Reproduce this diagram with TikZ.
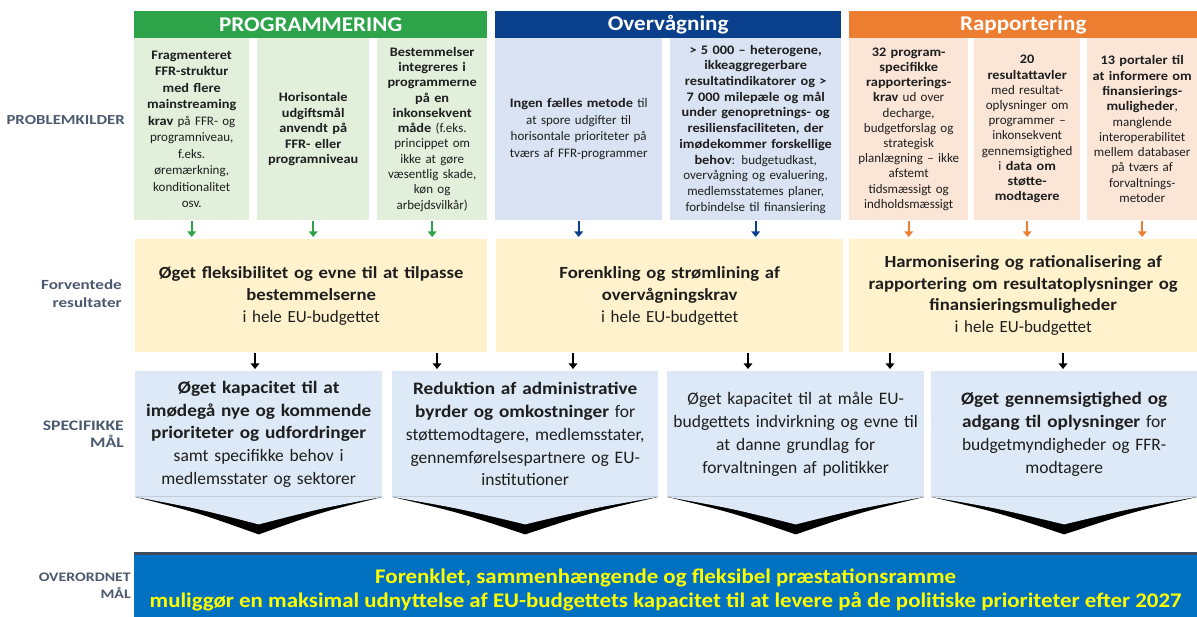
\documentclass[tikz,border=0pt]{standalone}
\usepackage{fontspec}
\setmainfont{Carlito}[BoldFeatures={FakeStretch=1.1}]
\newfontfamily\lblfont{Carlito}[FakeStretch=1.22,BoldFeatures={FakeStretch=1.22}]
\usetikzlibrary{arrows.meta,calc}
\definecolor{greenH}{HTML}{2DA44A}
\definecolor{greenB}{HTML}{E2EFDA}
\definecolor{blueH}{HTML}{0A3F8C}
\definecolor{blueB}{HTML}{DAE3F3}
\definecolor{orangeH}{HTML}{ED7D31}
\definecolor{orangeB}{HTML}{FBE5D6}
\definecolor{yelB}{HTML}{FFF2CC}
\definecolor{specB}{HTML}{DDE9F6}
\definecolor{botB}{HTML}{0070C0}
\definecolor{stripe}{HTML}{3E4C5E}
\definecolor{lblC}{HTML}{4B5970}
\definecolor{txtC}{HTML}{1E1E1E}
\definecolor{goalY}{HTML}{FFFF00}
\begin{document}
\begin{tikzpicture}[x=1pt,y=-1pt,
  hdr/.style={anchor=north west,inner sep=0pt,minimum height=27pt,text=white,font=\fontsize{21}{24}\selectfont\bfseries},
  pbox/.style={anchor=north west,inner sep=0pt,minimum height=182pt,align=center,text=txtC,font=\fontsize{13}{15.5}\selectfont},
  rbox/.style={anchor=north west,inner sep=0pt,minimum height=113pt,fill=yelB,align=center,text=txtC,font=\fontsize{17}{22}\selectfont},
  sbox/.style={anchor=north west,inner sep=0pt,minimum height=126pt,fill=specB,align=center,text=txtC,font=\fontsize{17.5}{22.8}\selectfont},
  lbl/.style={anchor=east,align=right,text=lblC,inner sep=0pt,font=\lblfont\fontsize{14.5}{17}\selectfont\bfseries},
  arr/.style={line width=1.8pt,-{Triangle[width=8.5pt,length=5.5pt]},shorten <=1pt,shorten >=2pt}
]
\useasboundingbox (0,0) rectangle (1197,617);

% headers
\node[hdr,fill=greenH,minimum width=353pt] (hg) at (134,11) {PROGRAMMERING};
\node[hdr,fill=blueH,minimum width=346pt] (hb) at (495,11) {Overvågning};
\node[hdr,fill=orangeH,minimum width=348pt] (ho) at (849,11) {Rapportering};

% problem sources
\node[pbox,fill=greenB,minimum width=115pt,text width=113pt,font=\fontsize{13}{16.5}\selectfont] (g1) at (134,38)
 {\textbf{Fragmenteret}\\\textbf{FFR-struktur}\\\textbf{med flere}\\\textbf{mainstreaming}\\\textbf{krav} på FFR- og\\programniveau,\\f.eks.\\øremærkning,\\konditionalitet\\osv.};
\node[pbox,fill=greenB,minimum width=112pt,text width=110pt] (g2) at (257,38)
 {\textbf{Horisontale}\\\textbf{udgiftsmål}\\\textbf{anvendt på}\\\textbf{FFR- eller}\\\textbf{programniveau}};
\node[pbox,fill=greenB,minimum width=110pt,text width=110pt,font=\fontsize{13}{15.3}\selectfont] (g3) at (377,38)
 {\textbf{Bestemmelser}\\\textbf{integreres i}\\\textbf{programmerne}\\\textbf{på en}\\\textbf{inkonsekvent}\\\textbf{måde} (f.eks.\\princippet om\\ikke at gøre\\væsentlig skade,\\køn og\\arbejdsvilkår)};
\node[pbox,fill=blueB,minimum width=167pt,text width=165pt,font=\fontsize{13}{16.7}\selectfont] (b1) at (495,38)
 {\textbf{Ingen fælles metode} til\\at spore udgifter til\\horisontale prioriteter på\\tværs af FFR-programmer};
\node[pbox,fill=blueB,minimum width=171pt,text width=171pt,font=\fontsize{13}{15.7}\selectfont] (b2) at (670,38)
 {\textbf{> 5 000 – heterogene,}\\\textbf{ikkeaggregerbare}\\\textbf{resultatindikatorer og >}\\\textbf{7 000 milepæle og mål}\\\textbf{under genopretnings- og}\\\textbf{resiliensfaciliteten, der}\\\textbf{imødekommer forskellige}\\\textbf{behov}: budgetudkast,\\overvågning og evaluering,\\medlemsstatemes planer,\\forbindelse til finansiering};
\node[pbox,fill=orangeB,minimum width=119pt,text width=119pt,font=\fontsize{13}{15.2}\selectfont] (o1) at (849,38)
 {\textbf{32 program-}\\\textbf{specifikke}\\\textbf{rapporterings-}\\\textbf{krav} ud over\\decharge,\\budgetforslag og\\strategisk\\planlægning – ikke\\afstemt\\tidsmæssigt og\\indholdsmæssigt};
\node[pbox,fill=orangeB,minimum width=106pt,text width=106pt,font=\fontsize{13}{15.2}\selectfont] (o2) at (974,38)
 {\textbf{20}\\\textbf{resultattavler}\\med resultat-\\oplysninger om\\programmer –\\inkonsekvent\\gennemsigtighed\\i \textbf{data om}\\\textbf{støtte-}\\\textbf{modtagere}};
\node[pbox,fill=orangeB,minimum width=110pt,text width=110pt,font=\fontsize{13}{15.3}\selectfont] (o3) at (1087,38)
 {\textbf{13 portaler til}\\\textbf{at informere om}\\\textbf{finansierings-}\\\textbf{muligheder},\\manglende\\interoperabilitet\\mellem databaser\\på tværs af\\forvaltnings-\\metoder};

% expected results
\node[rbox,minimum width=352pt,text width=350pt] (r1) at (135,239)
 {\textbf{Øget fleksibilitet og evne til at tilpasse}\\\textbf{bestemmelserne}\\i hele EU-budgettet};
\node[rbox,minimum width=347pt,text width=345pt] (r2) at (496,239)
 {\textbf{Forenkling og strømlining af}\\\textbf{overvågningskrav}\\i hele EU-budgettet};
\node[rbox,minimum width=348pt,text width=346pt,font=\fontsize{17}{21.5}\selectfont] (r3) at (849,239)
 {\textbf{Harmonisering og rationalisering af}\\\textbf{rapportering om resultatoplysninger og}\\\textbf{finansieringsmuligheder}\\i hele EU-budgettet};

% specific objectives
\node[sbox,minimum width=247pt,text width=245pt] (s1) at (135,371)
 {\textbf{Øget kapacitet til at}\\\textbf{imødegå nye og kommende}\\\textbf{prioriteter og udfordringer}\\samt specifikke behov i\\medlemsstater og sektorer};
\node[sbox,minimum width=266pt,text width=264pt] (s2) at (392,371)
 {\textbf{Reduktion af administrative}\\\textbf{byrder og omkostninger} for\\støttemodtagere, medlemsstater,\\gennemførelsespartnere og EU-\\institutioner};
\node[sbox,minimum width=257pt,text width=255pt] (s3) at (667,371)
 {Øget kapacitet til at måle EU-\\budgettets indvirkning og evne til\\at danne grundlag for\\forvaltningen af politikker};
\node[sbox,minimum width=266pt,text width=264pt] (s4) at (931,371)
 {\textbf{Øget gennemsigtighed og}\\\textbf{adgang til oplysninger} for\\budgetmyndigheder og FFR-\\modtagere};

% chevrons
\foreach \s in {s1,s2,s3,s4}{
  \fill[black] ($(\s.south west)+(0,-0.5)$) .. controls ($(\s.south west)!0.5!(\s.south)+(0,15)$) .. ($(\s.south)+(0,37)$)
     .. controls ($(\s.south east)!0.5!(\s.south)+(0,15)$) .. ($(\s.south east)+(0,-0.5)$) -- cycle;
  \fill[specB] ($(\s.south west)+(0,-0.5)$) .. controls ($(\s.south west)!0.5!(\s.south)+(0,11)$) .. ($(\s.south)+(0,27)$)
     .. controls ($(\s.south east)!0.5!(\s.south)+(0,11)$) .. ($(\s.south east)+(0,-0.5)$) -- cycle;
}

% overall objective
\node[anchor=north west,inner sep=0pt,minimum width=1063pt,minimum height=62pt,fill=botB] (ov) at (134,555) {};
\fill[stripe] (ov.north west) rectangle ($(ov.north east)+(0,-3)$);
\node[align=center,text=goalY,inner sep=0pt,font=\fontsize{20.8}{24}\selectfont\bfseries] (ovt) at ($(ov.center)+(0,3.5)$)
 {Forenklet, sammenhængende og fleksibel præstationsramme\\muliggør en maksimal udnyttelse af EU-budgettets kapacitet til at levere på de politiske prioriteter efter 2027};

% row labels
\node[lbl,font=\lblfont\fontsize{13.8}{17}\selectfont\bfseries] (lp) at (125,120) {PROBLEMKILDER};
\node[lbl,font=\lblfont\fontsize{14}{18}\selectfont\bfseries] (lr) at (122,294) {Forventede\\resultater};
\node[lbl,font=\lblfont\fontsize{14.5}{17}\selectfont\bfseries] (ls) at (124,434) {SPECIFIKKE\\MÅL};
\node[lbl,font=\lblfont\fontsize{13}{17}\selectfont\bfseries] (lo) at (131,586) {OVERORDNET\\MÅL};

% small arrows problem -> result
\draw[arr,greenH] (g1.south) -- (g1.south |- r1.north);
\draw[arr,greenH] (g2.south) -- (g2.south |- r1.north);
\draw[arr,greenH] (g3.south) -- (g3.south |- r1.north);
\draw[arr,blueH] (b1.south) -- (b1.south |- r2.north);
\draw[arr,blueH] (b2.south) -- (b2.south |- r2.north);
\draw[arr,orangeH] (o1.south) -- (o1.south |- r3.north);
\draw[arr,orangeH] (o2.south) -- (o2.south |- r3.north);
\draw[arr,orangeH] (o3.south) -- (o3.south |- r3.north);

% arrows result -> objectives
\coordinate (a1) at (255,0);
\coordinate (a2) at (437,0);
\coordinate (a3) at (573,0);
\coordinate (a4) at (748,0);
\coordinate (a5) at (890,0);
\coordinate (a6) at (1063,0);
\draw[arr,black] (r1.south -| a1) -- (s1.north -| a1);
\draw[arr,black] (r1.south -| a2) -- (s2.north -| a2);
\draw[arr,black] (r2.south -| a3) -- (s2.north -| a3);
\draw[arr,black] (r2.south -| a4) -- (s3.north -| a4);
\draw[arr,black] (r3.south -| a5) -- (s3.north -| a5);
\draw[arr,black] (r3.south -| a6) -- (s4.north -| a6);
\end{tikzpicture}
\end{document}
